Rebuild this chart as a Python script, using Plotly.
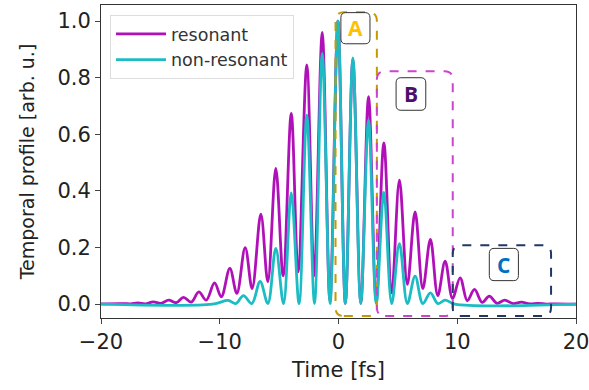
import plotly.graph_objects as go

# resonant pulse: alternating peak / trough points
res_t = [-20, -18.2, -17.5, -16.9, -16.25, -15.6, -14.95, -14.3, -13.66, -13.05, -12.4,
         -11.76, -11.14, -10.44, -9.87, -9.15, -8.56, -7.86, -7.27, -6.54, -5.95, -5.28,
         -4.66, -3.98, -3.40, -2.67, -2.05, -1.37, -0.72, -0.05, 0.58, 1.21, 1.88, 2.53,
         3.18, 3.82, 4.48, 5.13, 5.80, 6.45, 7.10, 7.74, 8.36, 8.98, 9.60, 10.24, 10.85,
         11.45, 12.10, 12.70, 13.35, 14.00, 14.70, 15.40, 16.10, 16.80, 17.50, 18.20, 20]
res_y = [0.001, 0.002, 0.001, 0.004, 0.001, 0.008, 0.003, 0.014, 0.005, 0.024, 0.007,
         0.043, 0.014, 0.075, 0.026, 0.126, 0.038, 0.200, 0.055, 0.318, 0.079, 0.480,
         0.100, 0.674, 0.114, 0.845, 0.100, 0.960, 0.010, 1.000, 0.003, 0.865, 0.003, 0.733,
         0.010, 0.570, 0.040, 0.438, 0.070, 0.326, 0.055, 0.229, 0.030, 0.152, 0.020, 0.093, 0.012,
         0.052, 0.006, 0.028, 0.003, 0.014, 0.002, 0.007, 0.001, 0.003, 0.000, 0.001, 0.000]

# non-resonant pulse
non_t = [-20, -10.6, -9.3, -8.65, -8.0, -7.3, -6.6, -5.95, -5.28, -4.63, -3.98, -3.32,
         -2.67, -2.02, -1.37, -0.71, -0.05, 0.58, 1.21, 1.87, 2.53, 3.18, 3.82, 4.48,
         5.13, 5.80, 6.45, 7.10, 7.74, 8.36, 8.98, 9.80, 20]
non_y = [0.0, 0.0, 0.013, 0.002, 0.03, 0.002, 0.08, 0.002, 0.197, 0.002, 0.393, 0.002,
         0.668, 0.002, 0.886, 0.002, 1.0, 0.002, 0.87, 0.002, 0.65, 0.002, 0.395, 0.002,
         0.214, 0.002, 0.099, 0.002, 0.04, 0.002, 0.014, 0.0, 0.0]

# dashed regions: label, x0, x1, y0, y1, box colour, label colour, label box (x0, x1, y0, y1)
boxes = [
    ("A", -0.25, 3.23, -0.042, 1.031, "#c49a00", "#ffc000", (0.2, 2.65, 0.92, 1.030)),
    ("B", 3.23, 9.62, -0.042, 0.823, "#cc44cc", "#4b0f6e", (4.85, 7.35, 0.685, 0.800)),
    ("C", 9.62, 17.9, -0.042, 0.208, "#1f3864", "#0070c0", (12.7, 15.15, 0.083, 0.197)),
]


def rounded(x0, x1, y0, y1, rx, ry):
    return (f"M {x0+rx},{y0} L {x1-rx},{y0} Q {x1},{y0} {x1},{y0+ry} "
            f"L {x1},{y1-ry} Q {x1},{y1} {x1-rx},{y1} L {x0+rx},{y1} "
            f"Q {x0},{y1} {x0},{y1-ry} L {x0},{y0+ry} Q {x0},{y0} {x0+rx},{y0} Z")


fig = go.Figure()
fig.add_trace(go.Scatter(x=res_t, y=res_y, mode="lines", name="resonant",
                         line=dict(color="#b010b8", width=2.8, shape="spline", smoothing=1)))
fig.add_trace(go.Scatter(x=non_t, y=non_y, mode="lines", name="non-resonant",
                         line=dict(color="#1cbcc4", width=2.8, shape="spline", smoothing=1)))

shapes = []
annotations = []
for lab, x0, x1, y0, y1, col, tcol, lb in boxes:
    shapes.append(dict(type="path", path=rounded(x0, x1, y0, y1, 0.7, 0.03),
                       line=dict(color=col, width=2, dash="dash"), layer="above"))
    shapes.append(dict(type="path", path=rounded(lb[0], lb[1], lb[2], lb[3], 0.4, 0.018),
                       line=dict(color="#333333", width=1), fillcolor="white", layer="above"))
    annotations.append(dict(x=(lb[0] + lb[1]) / 2, y=(lb[2] + lb[3]) / 2, text=f"<b>{lab}</b>",
                            showarrow=False, font=dict(family="Open Sans", size=21, color=tcol)))

fig.update_layout(
    width=589, height=390,
    margin=dict(l=101, r=13, t=5, b=72),
    plot_bgcolor="white", paper_bgcolor="white",
    font=dict(family="DejaVu Sans", color="#222222"),
    showlegend=True,
    legend=dict(x=0.019, y=0.968, xanchor="left", yanchor="top", itemwidth=50,
                bgcolor="rgba(255,255,255,0.85)", bordercolor="#dddddd", borderwidth=1,
                font=dict(size=17.5, color="#333333")),
    shapes=shapes, annotations=annotations,
)
fig.update_xaxes(range=[-20, 20], tickvals=[-20, -10, 0, 10, 20], ticks="outside", ticklen=5,
                 showline=True, linecolor="#333333", mirror=True, showgrid=False, zeroline=False,
                 automargin=False, ticklabeloverflow="allow", tickfont=dict(size=21),
                 title=dict(text="Time [fs]", font=dict(size=21), standoff=9))
fig.update_yaxes(range=[-0.049, 1.057], tickvals=[0, 0.2, 0.4, 0.6, 0.8, 1.0], tickformat=".1f",
                 ticks="outside", ticklen=5, showline=True, linecolor="#333333", mirror=True,
                 showgrid=False, zeroline=False, automargin=False, tickfont=dict(size=21),
                 title=dict(text="Temporal profile [arb. u.]", font=dict(size=19), standoff=17))

# page body has an 8px default margin; drop it so the figure sits at the window corner
fig.write_html("out.html", config={"displayModeBar": False},
               post_script="document.body.style.margin='0';")
